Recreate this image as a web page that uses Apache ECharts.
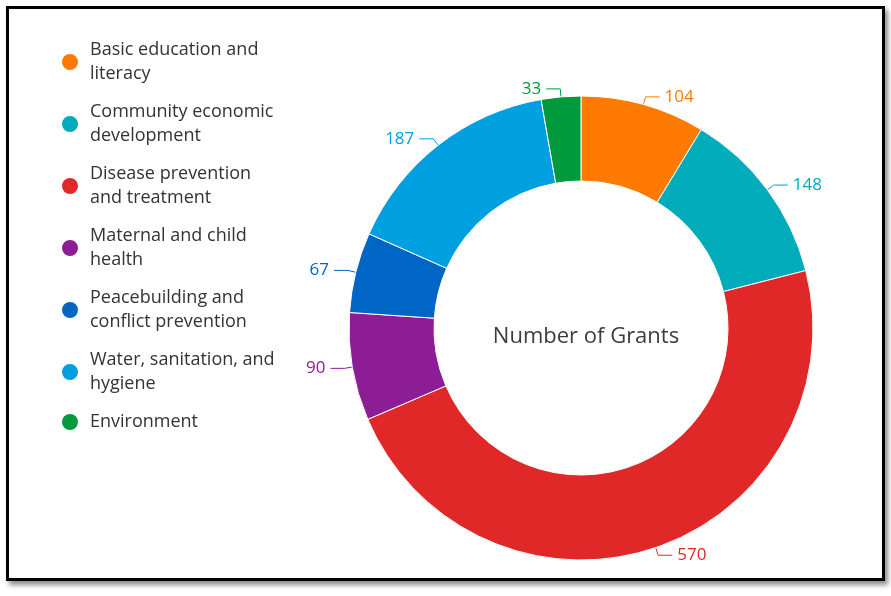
<!DOCTYPE html>
<html>
<head>
<meta charset="utf-8">
<script src="https://cdn.jsdelivr.net/npm/echarts@6/dist/echarts.min.js"></script>
<style>
body{margin:0;background:#fff;}
#frame{position:absolute;left:6px;top:6px;width:873px;height:569px;border:3px solid #000;box-shadow:3px 4px 5px rgba(0,0,0,0.45);background:#fff;}
#main{width:873px;height:569px;}
</style>
</head>
<body>
<div id="frame"><div id="main"></div></div>
<script>
var categories = ['Basic education and\nliteracy','Community economic\ndevelopment','Disease prevention\nand treatment','Maternal and child\nhealth','Peacebuilding and\nconflict prevention','Water, sanitation, and\nhygiene','Environment'];
var values = [104,148,570,90,67,187,33];
var colors = ['#FF7A00','#00ABBA','#E02828','#8C1D94','#0066C6','#009FE0','#009A3D'];

var chart = echarts.init(document.getElementById('main'));
chart.setOption({
  color: colors,
  title: {text:'Number of Grants', left:572, top:312, textAlign:'center',
    textStyle:{fontFamily:'Open Sans', fontSize:22, fontWeight:'normal', color:'#3c3c3c'}},
  legend: {
    orient:'vertical', left:46, top:24, itemGap:14, icon:'circle', itemWidth:18, itemHeight:18,
    textStyle:{fontFamily:'Open Sans', fontSize:18, color:'#333', lineHeight:24, padding:[0,0,0,6]},
    data: categories
  },
  series:[{
    type:'pie', center:[572,319], radius:[147,232], startAngle:90, clockwise:true,
    avoidLabelOverlap:true,
    itemStyle:{borderColor:'#fff', borderWidth:1},
    label:{formatter:'{c}', fontFamily:'Open Sans', fontSize:17, color:'inherit'},
    labelLine:{length:8, length2:14, lineStyle:{width:1}},
    data: categories.map(function(c,i){return {name:c, value:values[i]};})
  }]
});
</script>
</body>
</html>
